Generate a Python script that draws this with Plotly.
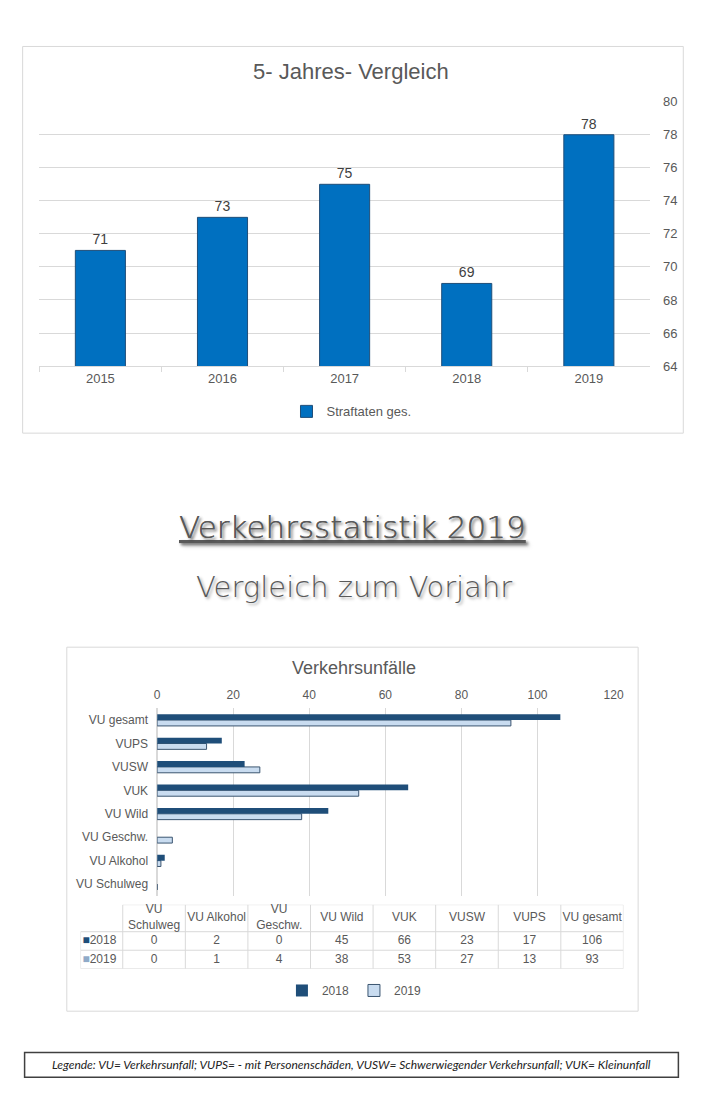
import plotly.graph_objects as go

# ---------------- data ----------------
years = ["2015", "2016", "2017", "2018", "2019"]
straftaten = [71, 73, 75, 69, 78]

vu_categories = ["VU Schulweg", "VU Alkohol", "VU Geschw.", "VU Wild", "VUK", "VUSW", "VUPS", "VU gesamt"]
vu_headers = ["VU<br>Schulweg", "VU Alkohol", "VU<br>Geschw.", "VU Wild", "VUK", "VUSW", "VUPS", "VU gesamt"]
vu_2018 = [0, 2, 0, 45, 66, 23, 17, 106]
vu_2019 = [0, 1, 4, 38, 53, 27, 13, 93]
series_names = ["2018", "2019"]

W, H = 709, 1106
def px(x):
    return x / W
def py(y):
    return 1 - y / H

GRAY = "#595959"
GRID = "#D9D9D9"
FONT = "Liberation Sans"
C18 = "#1F4E79"
C19 = "#C9DCF0"
C19_ICON = "#8FAAC8"

fig = go.Figure()

# ---------------- top chart ----------------
fig.add_trace(go.Bar(
    x=years, y=straftaten, name="Straftaten ges.",
    marker=dict(color="#0070C0", line=dict(color="#1F4E79", width=1)),
    width=0.41, text=straftaten, textposition="outside", cliponaxis=False,
    textfont=dict(family=FONT, size=14, color="#404040"),
    hoverinfo="skip", xaxis="x", yaxis="y", legend="legend",
))

# ---------------- bottom chart ----------------
fig.add_trace(go.Bar(
    y=vu_categories, x=vu_2019, name=series_names[1], orientation="h",
    marker=dict(color=C19, line=dict(color="#3B5570", width=1)),
    width=0.25, offset=-0.25,
    xaxis="x2", yaxis="y2", legend="legend2",
))
fig.add_trace(go.Bar(
    y=vu_categories, x=vu_2018, name=series_names[0], orientation="h",
    marker=dict(color=C18, line=dict(color=C18, width=0)),
    width=0.25, offset=0.0,
    xaxis="x2", yaxis="y2", legend="legend2",
))

# ---------------- data table (text on its own axes) ----------------
ncol = len(vu_categories)
label_col = 43 / 63.75          # width of the row-label column in data-column units
header_h = 27 / 18.5            # header height in data-row units
x_left = -0.5 - label_col
y_top = 1.5 + header_h
col_idx = list(range(ncol))

tfont = dict(family=FONT, size=12, color=GRAY)
fig.add_trace(go.Scatter(
    x=col_idx + col_idx, y=[1] * ncol + [0] * ncol,
    text=[str(v) for v in vu_2018] + [str(v) for v in vu_2019],
    mode="text", textposition="middle center", textfont=tfont,
    hoverinfo="skip", showlegend=False, xaxis="x3", yaxis="y3", cliponaxis=False,
))
fig.add_trace(go.Scatter(
    x=col_idx, y=[1.5 + header_h / 2] * ncol, text=vu_headers,
    mode="text", textposition="middle center", textfont=tfont,
    hoverinfo="skip", showlegend=False, xaxis="x3", yaxis="y3", cliponaxis=False,
))
row_labels = ['<span style="color:%s">■</span>%s' % (C18, series_names[0]),
              '<span style="color:%s">■</span>%s' % (C19_ICON, series_names[1])]
fig.add_trace(go.Scatter(
    x=[x_left + 0.03, x_left + 0.03], y=[1, 0], text=row_labels,
    mode="text", textposition="middle right", textfont=tfont,
    hoverinfo="skip", showlegend=False, xaxis="x3", yaxis="y3", cliponaxis=False,
))

table_lines = []
def tline(x0, y0, x1, y1):
    table_lines.append(dict(type="line", xref="x3", yref="y3", x0=x0, y0=y0, x1=x1, y1=y1,
                            line=dict(color=GRID, width=1), layer="below"))
tline(-0.5, y_top, ncol - 0.5, y_top)
for yy in [1.5, 0.5, -0.5]:
    tline(x_left, yy, ncol - 0.5, yy)
tline(x_left, -0.5, x_left, 1.5)
for i in range(ncol + 1):
    tline(i - 0.5, -0.5, i - 0.5, y_top)

frames = [
    dict(type="rect", xref="paper", yref="paper",
         x0=px(20), x1=px(693), y0=py(432), y1=py(40),
         line=dict(color=GRID, width=1)),
    dict(type="rect", xref="paper", yref="paper",
         x0=px(65), x1=px(647), y0=py(1018), y1=py(649),
         line=dict(color=GRID, width=1)),
    dict(type="rect", xref="paper", yref="paper",
         x0=px(22), x1=px(688), y0=py(1085), y1=py(1060),
         line=dict(color="#404040", width=1.5)),
]

fig.update_layout(
    width=W, height=H,
    margin=dict(l=0, r=0, t=0, b=0),
    paper_bgcolor="white", plot_bgcolor="white",
    barmode="overlay",
    font=dict(family=FONT, color=GRAY),
    xaxis=dict(
        domain=[px(37), px(659)], anchor="y",
        showline=True, linecolor=GRID, linewidth=1,
        ticks="outside", tickson="boundaries", ticklen=5, tickcolor=GRID,
        tickfont=dict(family=FONT, size=13, color=GRAY),
        showgrid=False, fixedrange=True,
    ),
    yaxis=dict(
        domain=[py(364), py(96)], anchor="x", side="right",
        range=[64, 80], dtick=2, showgrid=True, gridcolor=GRID,
        zeroline=False, showline=False, ticks="",
        tickfont=dict(family=FONT, size=13, color=GRAY),
        ticklabelstandoff=12, fixedrange=True,
    ),
    xaxis2=dict(
        domain=[px(157), px(622)], anchor="y2", side="top",
        range=[0, 120], dtick=20, showgrid=True, gridcolor=GRID,
        zeroline=True, zerolinecolor=GRID, showline=False, ticks="",
        tickfont=dict(family=FONT, size=12, color=GRAY),
        ticklabelstandoff=6, fixedrange=True,
    ),
    yaxis2=dict(
        domain=[py(901), py(711)], anchor="x2",
        categoryorder="array", categoryarray=vu_categories,
        showgrid=False, showline=False, ticks="",
        tickfont=dict(family=FONT, size=12, color=GRAY),
        ticklabelstandoff=8, fixedrange=True,
    ),
    xaxis3=dict(
        domain=[px(79), px(632)], anchor="y3", range=[x_left, ncol - 0.5],
        visible=False, fixedrange=True,
    ),
    yaxis3=dict(
        domain=[py(975), py(910)], anchor="x3", range=[-0.5, y_top],
        visible=False, fixedrange=True,
    ),
    legend=dict(
        x=px(355), y=py(410), xanchor="center", yanchor="middle",
        orientation="h", font=dict(family=FONT, size=13, color=GRAY),
        bgcolor="rgba(0,0,0,0)", itemwidth=30,
    ),
    legend2=dict(
        x=px(358), y=py(997), xanchor="center", yanchor="middle",
        orientation="h", traceorder="reversed", itemwidth=30,
        font=dict(family=FONT, size=12, color=GRAY),
        bgcolor="rgba(0,0,0,0)",
    ),
    shapes=frames + table_lines,
    annotations=[
        dict(text="5- Jahres- Vergleich", x=px(355), y=py(65), xref="paper", yref="paper",
             showarrow=False, xanchor="center", yanchor="middle",
             font=dict(family=FONT, size=22, color=GRAY)),
        dict(text="Verkehrsunfälle", x=px(358), y=py(670), xref="paper", yref="paper",
             showarrow=False, xanchor="center", yanchor="middle",
             font=dict(family=FONT, size=18, color=GRAY)),
        dict(text="<u>Verkehrsstatistik 2019</u>", x=px(356), y=py(527), xref="paper", yref="paper",
             showarrow=False, xanchor="center", yanchor="middle",
             font=dict(family="DejaVu Sans", size=31, weight=300, color="#595959",
                       shadow="2px 2px 3px rgba(0,0,0,0.35)")),
        dict(text="Vergleich zum Vorjahr", x=px(358), y=py(588), xref="paper", yref="paper",
             showarrow=False, xanchor="center", yanchor="middle",
             font=dict(family="DejaVu Sans", size=29, weight=300, color="#595959",
                       shadow="2px 2px 3px rgba(0,0,0,0.35)")),
        dict(text="Legende: VU= Verkehrsunfall; VUPS= - mit Personenschäden, VUSW= Schwerwiegender Verkehrsunfall; VUK= Kleinunfall",
             x=px(355), y=py(1072.5), xref="paper", yref="paper",
             showarrow=False, xanchor="center", yanchor="middle",
             font=dict(family="Lato", size=12, color="#222222", style="italic")),
    ],
)

fig.write_html("out.html", config={"displayModeBar": False},
               post_script="document.body.style.margin='0';")
